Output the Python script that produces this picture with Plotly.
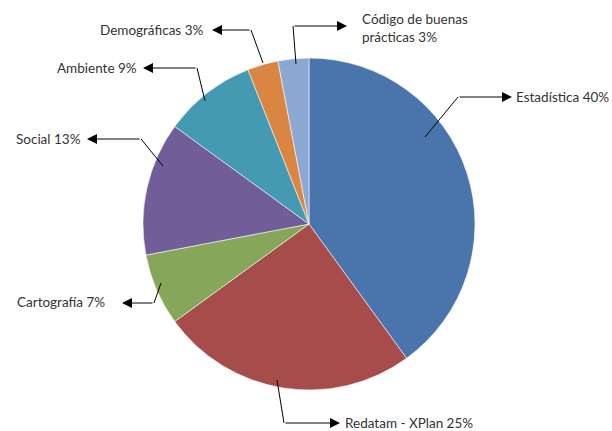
import plotly.graph_objects as go

categories = ["Estadística", "Redatam - XPlan", "Cartografía", "Social", "Ambiente",
              "Demográficas", "Código de buenas<br>prácticas"]
values = [40, 25, 7, 13, 9, 3, 3]
colors = ["#4A74AC", "#A64D4C", "#86A65A", "#715D98", "#4499B3", "#DB8543", "#8DA7D3"]

W, H = 612, 431
# leader layout in pixels: (start, elbow, tip, label anchor, xanchor)
leaders = [
    ((425, 137), (458, 97), (512, 97), (514, 97), "left"),
    ((277, 380), (284, 423), (340, 423), (343, 423), "left"),
    ((161, 283), (154, 303), (122, 303), (107, 302), "right"),
    ((163, 166), (141, 139), (87, 139), (83, 139), "right"),
    ((205, 101), (197, 68), (143, 68), (139, 68), "right"),
    ((263, 63), (251, 30), (212, 30), (205, 30), "right"),
    ((296, 64), (293, 26), (347, 26), (360, 28), "left"),
]

def px(x, y):
    return x / W, 1 - y / H

cx, cy, r = 309, 224, 166
fig = go.Figure(go.Pie(
    labels=categories, values=values, sort=False, direction="clockwise", rotation=0,
    marker=dict(colors=colors, line=dict(color="rgba(255,255,255,0.7)", width=0.8)),
    textinfo="none", hoverinfo="label+percent",
    domain=dict(x=[(cx - r) / W, (cx + r) / W], y=[1 - (cy + r) / H, 1 - (cy - r) / H]),
    showlegend=False,
))

shapes, annotations = [], []
font = dict(family="Lato, 'Open Sans', sans-serif", size=13.5, color="#333333")
for (cat, val), (s, e, t, lab, xa) in zip(zip(categories, values), leaders):
    x0, y0 = px(*s); x1, y1 = px(*e)
    shapes.append(dict(type="line", xref="paper", yref="paper", x0=x0, y0=y0, x1=x1, y1=y1,
                       line=dict(color="black", width=1)))
    tx, ty = px(*t)
    annotations.append(dict(xref="paper", yref="paper", x=tx, y=ty, text="",
                            showarrow=True, arrowhead=2, arrowsize=2, arrowwidth=1,
                            arrowcolor="black", ax=e[0] - t[0], ay=e[1] - t[1],
                            axref="pixel", ayref="pixel", standoff=0))
    lx, ly = px(*lab)
    annotations.append(dict(xref="paper", yref="paper", x=lx, y=ly, xanchor=xa, yanchor="middle",
                            text=f"{cat} {val}%", showarrow=False, align="left", font=font))

fig.update_layout(width=W, height=H, margin=dict(l=0, r=0, t=0, b=0),
                  paper_bgcolor="white", plot_bgcolor="white",
                  shapes=shapes, annotations=annotations)
fig.write_html("out.html", config={"displayModeBar": False},
               post_script="document.body.style.margin='0';document.body.style.overflow='hidden';")
